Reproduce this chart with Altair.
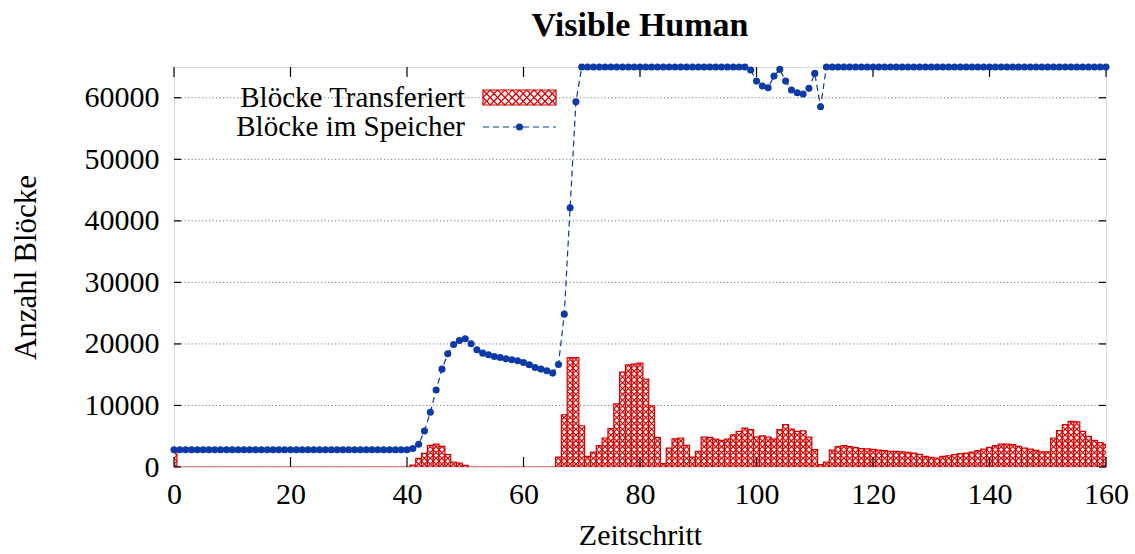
import altair as alt
import pandas as pd

# ---------------------------------------------------------------- data
steps = list(range(161))

# blocks transferred per time step (boxes)
transferred = [
    2600, 0, 0, 0, 0, 0, 0, 0, 0, 0,
    0, 0, 0, 0, 0, 0, 0, 0, 0, 0,
    0, 0, 0, 0, 0, 0, 0, 0, 0, 0,
    0, 0, 0, 0, 0, 0, 0, 0, 0, 0,
    0, 300, 1400, 2200, 3500, 3730, 3340, 2000, 810, 650,
    260, 0, 0, 0, 0, 0, 0, 0, 0, 0,
    0, 0, 0, 0, 0, 0, 1620, 8490, 17790, 17790,
    6700, 1720, 2430, 3460, 4710, 6220, 10280, 15420, 16610, 16720,
    16880, 14290, 9950, 4800, 540, 3080, 4590, 4710, 3500, 1620,
    2530, 4870, 4800, 4550, 4320, 4550, 5240, 5780, 6330, 6060,
    4870, 5080, 4870, 4550, 6060, 6870, 6170, 5780, 5890, 4870,
    2810, 370, 810, 2750, 3300, 3460, 3300, 3150, 3000, 2950,
    2850, 2750, 2650, 2550, 2550, 2450, 2400, 2270, 2050, 1720,
    1560, 1460, 1720, 1830, 2000, 2160, 2270, 2430, 2650, 2920,
    3180, 3460, 3730, 3730, 3620, 3340, 3080, 2920, 2700, 2450,
    2450, 4710, 5900, 6900, 7400, 7350, 5780, 4970, 4320, 3950,
    3680,
]

# blocks resident in memory per time step (line with points)
in_memory = [
    2800, 2800, 2800, 2800, 2800, 2800, 2800, 2800, 2800, 2800,
    2800, 2800, 2800, 2800, 2800, 2800, 2800, 2800, 2800, 2800,
    2800, 2800, 2800, 2800, 2800, 2800, 2800, 2800, 2800, 2800,
    2800, 2800, 2800, 2800, 2800, 2800, 2800, 2800, 2800, 2800,
    2800, 3000, 3700, 5850, 8900, 12500, 15900, 18400, 19900, 20550,
    20830, 20020, 19040, 18500, 18230, 17960, 17800, 17580, 17420, 17260,
    16980, 16610, 16170, 15910, 15630, 15260, 16660, 24840, 42140, 59350,
    65000, 65000, 65000, 65000, 65000, 65000, 65000, 65000, 65000, 65000,
    65000, 65000, 65000, 65000, 65000, 65000, 65000, 65000, 65000, 65000,
    65000, 65000, 65000, 65000, 65000, 65000, 65000, 65000, 65000, 64500,
    62710, 61900, 61620, 63520, 64610, 62710, 61250, 60810, 60600, 61530,
    63960, 58540, 65000, 65000, 65000, 65000, 65000, 65000, 65000, 65000,
    65000, 65000, 65000, 65000, 65000, 65000, 65000, 65000, 65000, 65000,
    65000, 65000, 65000, 65000, 65000, 65000, 65000, 65000, 65000, 65000,
    65000, 65000, 65000, 65000, 65000, 65000, 65000, 65000, 65000, 65000,
    65000, 65000, 65000, 65000, 65000, 65000, 65000, 65000, 65000, 65000,
    65000,
]

x_ticks = [0, 20, 40, 60, 80, 100, 120, 140, 160]
y_ticks = [0, 10000, 20000, 30000, 40000, 50000, 60000]
y_grid = [10000, 20000, 30000, 40000, 50000, 60000]

title_text = "Visible Human"
x_title = "Zeitschritt"
y_title = "Anzahl Blöcke"
labels = ["Blöcke Transferiert", "Blöcke im Speicher"]

# ---------------------------------------------------------------- style
W, H = 932, 400
FONT = "Liberation Serif"
RED = "#d60000"
PINK = "#fdf0f0"
BLUE = "#0b3aa8"
X_MAX, Y_MAX = 160, 65000
HATCH = 945          # vertical size of one hatch cell, in block units

df = pd.DataFrame({"t": steps, "transferred": transferred, "memory": in_memory})

# crosshatch: one "X" per cell inside every box
rows = []
for t, v in zip(steps, transferred):
    k = 0
    while k * HATCH < v:
        y0 = k * HATCH
        y1 = min((k + 1) * HATCH, v)
        f = (y1 - y0) / HATCH
        rows.append({"x1": t - 0.5, "x2": t - 0.5 + f, "y1": y0, "y2": y1})
        rows.append({"x1": t + 0.5, "x2": t + 0.5 - f, "y1": y0, "y2": y1})
        k += 1
hatch_df = pd.DataFrame(rows)

xs = alt.Scale(domain=[0, X_MAX], nice=False, zero=False)
ys = alt.Scale(domain=[0, Y_MAX], nice=False)

x_axis = alt.Axis(values=x_ticks, ticks=False, domain=False, grid=False,
                  labelFont=FONT, labelFontSize=30, labelPadding=12,
                  labelColor="black", title=x_title, titleFont=FONT,
                  titleFontSize=30, titleFontWeight="normal", titleColor="black",
                  titlePadding=11, labelFlush=False)
y_axis = alt.Axis(values=y_ticks, format="d", ticks=False, domain=False, grid=False,
                  labelFont=FONT, labelFontSize=30, labelPadding=15,
                  labelColor="black", title=y_title, titleFont=FONT,
                  titleFontSize=31, titleFontWeight="normal", titleColor="black",
                  titlePadding=42)

grid = alt.Chart(pd.DataFrame({"v": y_grid})).mark_rule(
    color="#7a7a7a", strokeWidth=1, strokeDash=[1.2, 2.3]
).encode(y=alt.Y("v:Q", scale=ys, axis=y_axis), x=alt.value(0), x2=alt.value(W))

bars = alt.Chart(df).transform_calculate(
    lo="datum.t - 0.5", hi="datum.t + 0.5"
).mark_rect(fill=PINK, stroke=RED, strokeWidth=1.2, clip=True).encode(
    x=alt.X("lo:Q", scale=xs, axis=x_axis),
    x2="hi:Q",
    y=alt.Y("transferred:Q", scale=ys),
    y2=alt.datum(0),
)

hatch = alt.Chart(hatch_df).mark_rule(color=RED, strokeWidth=1.1, clip=True).encode(
    x=alt.X("x1:Q", scale=xs), x2="x2:Q",
    y=alt.Y("y1:Q", scale=ys), y2="y2:Q",
)

line = alt.Chart(df).mark_line(color=BLUE, strokeWidth=1.2, strokeDash=[6, 4]).encode(
    x=alt.X("t:Q", scale=xs), y=alt.Y("memory:Q", scale=ys)
)
points = alt.Chart(df).mark_circle(color=BLUE, size=50, opacity=1).encode(
    x=alt.X("t:Q", scale=xs), y=alt.Y("memory:Q", scale=ys)
)

# inward tick marks on all four sides
xt = pd.DataFrame({"v": x_ticks})
yt = pd.DataFrame({"v": y_ticks})
tick_style = dict(color="black", strokeWidth=1.2)
xt_bottom = alt.Chart(xt).mark_rule(**tick_style).encode(
    x=alt.X("v:Q", scale=xs), y=alt.value(H), y2=alt.value(H - 10))
xt_top = alt.Chart(xt).mark_rule(**tick_style).encode(
    x=alt.X("v:Q", scale=xs), y=alt.value(0), y2=alt.value(10))
yt_left = alt.Chart(yt).mark_rule(**tick_style).encode(
    y=alt.Y("v:Q", scale=ys), x=alt.value(0), x2=alt.value(7))
yt_right = alt.Chart(yt).mark_rule(**tick_style).encode(
    y=alt.Y("v:Q", scale=ys), x=alt.value(W), x2=alt.value(W - 7))

main = alt.layer(grid, bars, hatch, xt_bottom, xt_top, yt_left, yt_right, line, points)

# ---------------------------------------------------------------- key
LX_TEXT, LX0, LX1 = 291, 309, 382
ROW1, ROW2 = 31, 60
one = pd.DataFrame({"k": [0]})

key_text1 = alt.Chart(one).mark_text(
    align="right", baseline="middle", font=FONT, fontSize=29, color="black"
).encode(x=alt.value(LX_TEXT), y=alt.value(ROW1), text=alt.value(labels[0]))
key_text2 = alt.Chart(one).mark_text(
    align="right", baseline="middle", font=FONT, fontSize=29, color="black"
).encode(x=alt.value(LX_TEXT), y=alt.value(ROW2), text=alt.value(labels[1]))

sw_top, sw_bot = ROW1 - 8, ROW1 + 7
key_box = alt.Chart(one).mark_rect(fill=PINK, stroke=RED, strokeWidth=1.2).encode(
    x=alt.value(LX0), x2=alt.value(LX1), y=alt.value(sw_top), y2=alt.value(sw_bot))

ncols, nrows = 10, 2
cw = (LX1 - LX0) / ncols
ch = (sw_bot - sw_top) / nrows
sw_rows = []
for i in range(ncols):
    for j in range(nrows):
        xa, xb = LX0 + i * cw, LX0 + (i + 1) * cw
        ya, yb = sw_top + j * ch, sw_top + (j + 1) * ch
        sw_rows.append({"x1": xa, "x2": xb, "y1": ya, "y2": yb})
        sw_rows.append({"x1": xb, "x2": xa, "y1": ya, "y2": yb})
key_hatch = alt.Chart(pd.DataFrame(sw_rows)).mark_rule(color=RED, strokeWidth=1.1).encode(
    x=alt.X("x1:Q", scale=None, axis=None), x2="x2:Q",
    y=alt.Y("y1:Q", scale=None, axis=None), y2="y2:Q")

key_line = alt.Chart(one).mark_rule(color=BLUE, strokeWidth=1.2, strokeDash=[6, 4]).encode(
    x=alt.value(LX0), x2=alt.value(LX1), y=alt.value(ROW2))
key_point = alt.Chart(one).mark_circle(color=BLUE, size=50, opacity=1).encode(
    x=alt.value((LX0 + LX1) / 2), y=alt.value(ROW2))

key = alt.layer(key_box, key_hatch, key_text1, key_text2, key_line, key_point)

chart = alt.layer(main, key).resolve_scale(x="independent", y="independent").properties(
    width=W, height=H,
    title=alt.TitleParams(title_text, font=FONT, fontSize=34, fontWeight="bold",
                          color="black", anchor="middle", offset=20),
    autosize=alt.AutoSizeParams(type="none"),
    padding={"left": 174, "top": 67, "right": 29, "bottom": 87},
).configure_view(stroke="black", strokeWidth=1.3).configure(background="white")

chart.save("out.html", embed_options={"renderer": "svg", "actions": False})
